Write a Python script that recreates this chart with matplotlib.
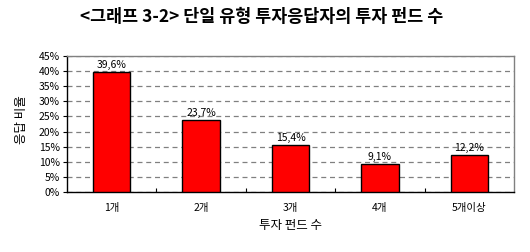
import matplotlib
matplotlib.use("Agg")
import matplotlib.pyplot as plt
from matplotlib.ticker import MultipleLocator, FuncFormatter, FixedLocator

plt.rcParams['font.family'] = ['Noto Sans CJK KR', 'DejaVu Sans']

categories = ['1개', '2개', '3개', '4개', '5개이상']
values = [39.6, 23.7, 15.4, 9.1, 12.2]
title = '<그래프 3-2> 단일 유형 투자응답자의 투자 펀드 수'
xlabel = '투자 펀드 수'
ylabel = '응답 비율'

fig = plt.figure(figsize=(5.3, 2.52), dpi=100)
W, H = 530, 252
ax = fig.add_axes([67 / W, 1 - 192 / H, (514 - 67) / W, (192 - 56) / H])

x = list(range(len(categories)))
ax.bar(x, values, width=0.42, color='#ff0000', edgecolor='black', linewidth=1.0, zorder=3)
for xi, v in zip(x, values):
    ax.text(xi, v + 0.8, f'{v:.1f}%'.replace('.', ','), ha='center', va='bottom', fontsize=7.5, zorder=4)

ax.set_xlim(-0.5, len(categories) - 0.5)
ax.set_ylim(0, 45)
ax.yaxis.set_major_locator(MultipleLocator(5))
ax.yaxis.set_major_formatter(FuncFormatter(lambda v, p: f'{v:.0f}%'))
ax.set_xticks(x)
ax.set_xticklabels(categories, fontsize=7.5)
ax.tick_params(axis='x', length=0, pad=8)
ax.xaxis.set_minor_locator(FixedLocator([0.5, 1.5, 2.5, 3.5]))
ax.tick_params(axis='x', which='minor', direction='in', length=3, width=0.8)
ax.tick_params(axis='y', labelsize=7.5, length=3, width=0.8, pad=2)
ax.grid(axis='y', linestyle=(0, (4, 3)), color='#808080', linewidth=0.9, zorder=0)

for s in ['left', 'bottom']:
    ax.spines[s].set_color('black')
    ax.spines[s].set_linewidth(1.0)
for s in ['top', 'right']:
    ax.spines[s].set_color('#808080')
    ax.spines[s].set_linewidth(1.0)

ax.set_xlabel(xlabel, fontsize=9, labelpad=4)
fig.text(22 / W, 1 - 120 / H, ylabel, rotation=90, ha='center', va='center', fontsize=9)
fig.text(262 / W, 1 - 17 / H, title, ha='center', va='center', fontsize=12.5, fontweight='bold')

fig.savefig('out.png', dpi=100)
